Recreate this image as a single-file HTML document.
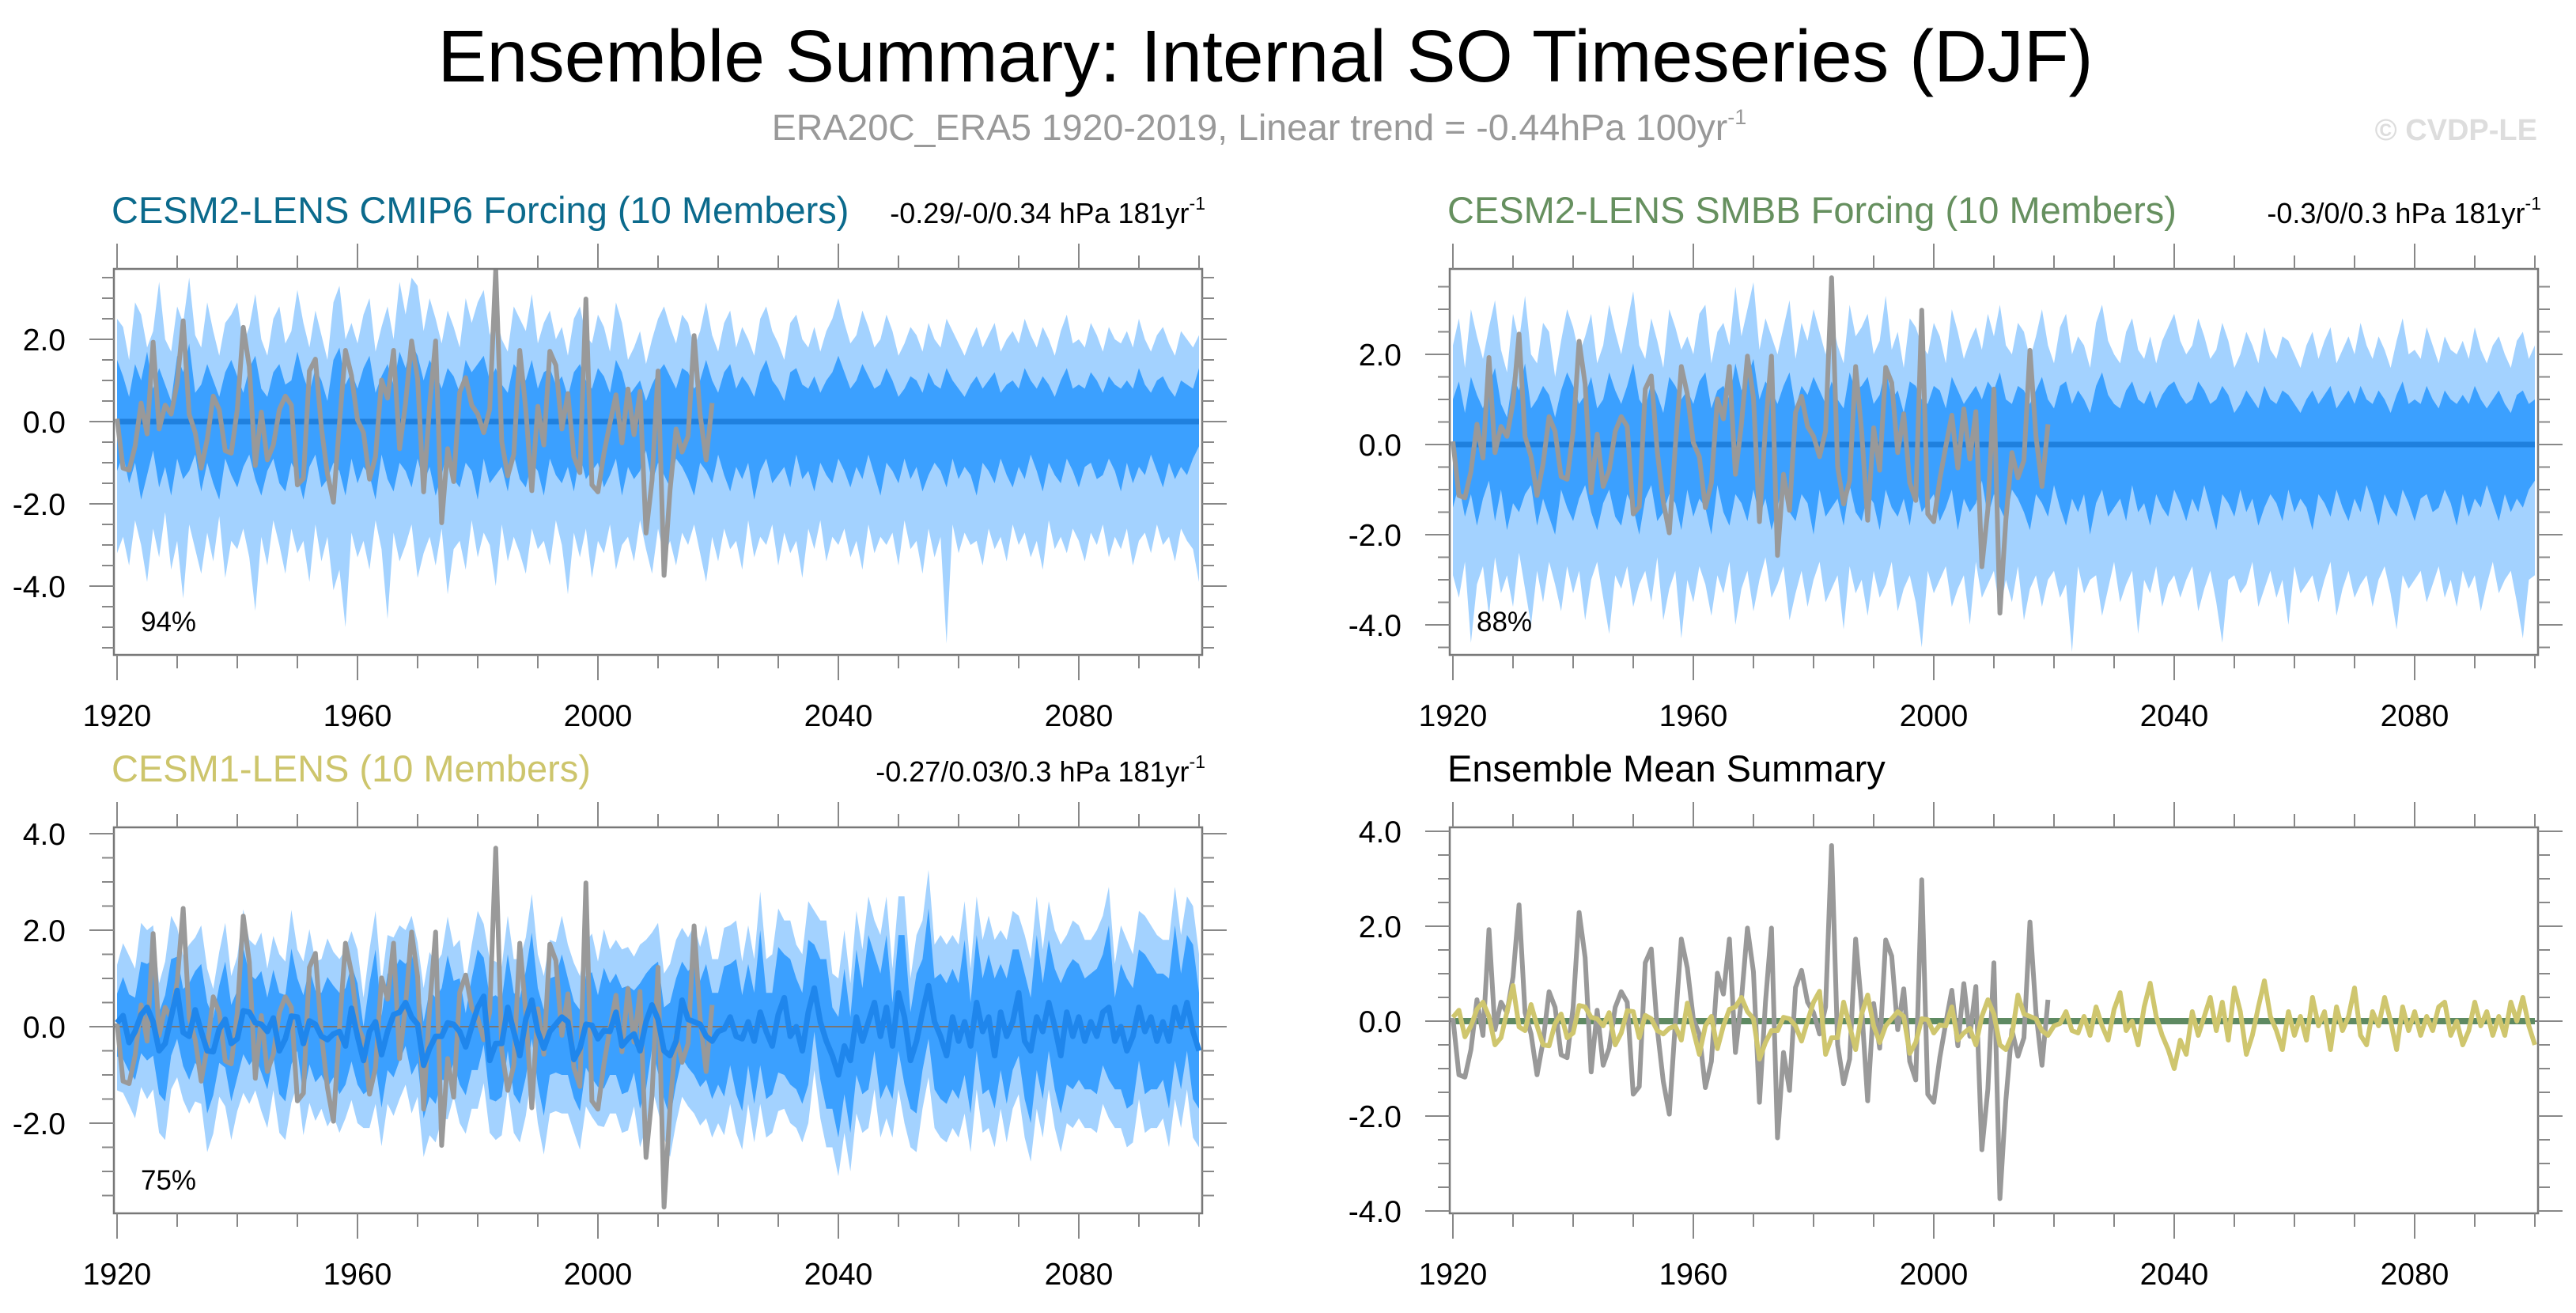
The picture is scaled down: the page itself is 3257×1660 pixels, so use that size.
<!DOCTYPE html>
<html><head><meta charset="utf-8">
<style>
html,body{margin:0;padding:0;background:#fff;}
svg{display:block;}
text{font-family:"Liberation Sans",Arial,sans-serif;}
</style></head>
<body>
<svg id="chart" xmlns="http://www.w3.org/2000/svg" width="3257" height="1660" viewBox="0 0 3257 1660">
<rect x="0" y="0" width="3257" height="1660" fill="#fff"/>
<text x="1600" y="103" font-size="93" text-anchor="middle" fill="#000">Ensemble Summary: Internal SO Timeseries (DJF)</text>
<text x="1592" y="177" font-size="46.5" text-anchor="middle" fill="#999">ERA20C_ERA5 1920-2019, Linear trend = -0.44hPa 100yr<tspan font-size="27" dy="-20">-1</tspan></text>
<text x="3208" y="177" font-size="38" font-weight="bold" text-anchor="end" fill="#ddd">© CVDP-LE</text>
<g id="plots"></g>
</svg>
<script>
const firstYear = 1920;
const nYears = 181;
const xTickLabels = ['1920','1960','2000','2040','2080'];
const xTickYears = [1920,1960,2000,2040,2080];

// Observations ERA20C_ERA5 1920-2019
const obs = [0.07,-1.13,-1.18,-0.6,0.45,-0.3,1.93,-0.18,0.4,0.18,
0.93,2.45,0.18,-0.27,-1.13,-0.43,0.62,0.29,-0.71,-0.77,
0.29,2.29,1.34,-1.07,0.23,-0.93,-0.57,0.29,0.62,0.4,
-1.54,-1.38,1.23,1.52,-0.16,-1.27,-1.96,-0.04,1.73,1.12,
0.04,-0.27,-1.4,-0.85,1.01,0.57,1.73,-0.66,0.45,1.96,
1.04,-1.71,0.4,1.96,-2.46,-0.66,-1.46,0.71,1.07,0.4,
0.18,-0.27,0.3,3.7,-0.49,-1.32,-0.8,1.73,0.29,-1.68,
0.37,-0.57,1.71,1.37,-0.18,0.68,-0.85,-1.24,2.98,-1.54,
-1.71,-0.77,-0.04,0.65,-0.52,0.79,-0.32,0.73,-2.71,-1.43,
1.23,-3.74,-1.66,-0.18,-0.74,-0.35,2.09,0.18,-0.93,0.45];

// CESM1-LENS ensemble mean 1920-2100
const cesm1Mean = [0.08,0.23,-0.33,-0.1,0.25,0.4,0.1,-0.5,-0.35,0.2,
0.75,-0.12,-0.2,0.35,-0.1,-0.5,-0.52,-0.05,0.15,-0.35,
-0.25,0.33,0.3,0.08,0.05,-0.1,0.18,-0.5,-0.25,0.22,
0.2,-0.35,0.12,0.05,-0.2,-0.27,-0.15,-0.1,-0.4,0.38,
-0.2,-0.7,-0.1,0.1,-0.58,-0.1,0.25,0.3,0.5,0.2,
0.05,-0.8,-0.45,-0.2,-0.2,0.08,0.05,-0.1,-0.42,0.0,
0.4,0.63,-0.7,-0.35,-0.35,0.4,-0.1,-0.6,0.15,0.55,
-0.1,-0.45,-0.1,0.05,0.2,0.1,-0.68,-0.45,0.05,0.03,
-0.25,-0.08,-0.1,0.3,-0.4,-0.25,-0.15,-0.5,0.1,0.45,
0.15,-0.5,-0.6,-0.3,0.55,0.15,0.1,0.05,-0.2,-0.3,
-0.1,-0.05,0.2,-0.2,-0.25,
0.1,-0.3,0.3,-0.1,-0.4,0.25,0.6,-0.2,0.0,-0.5,0.3,0.8,0.1,-0.3,-0.6,-1.0,-0.4,-0.7,0.2,-0.3,
0.1,0.5,-0.2,0.4,-0.4,0.7,0.2,-0.7,-0.3,0.3,0.85,0.1,-0.2,-0.6,0.2,-0.3,0.1,-0.4,0.5,-0.1,
0.2,-0.6,0.3,-0.2,0.1,0.7,-0.3,-0.5,0.2,-0.1,0.5,0.0,-0.6,0.3,-0.2,0.2,-0.3,0.1,-0.2,0.3,
0.4,-0.3,0.0,-0.5,-0.2,0.4,-0.1,0.2,-0.3,0.1,-0.3,0.4,0.0,0.5,-0.1,-0.5];

const cmip6Mean = Array(nYears).fill(0.0);
const smbbMean = Array(nYears).fill(0.0);

// CESM2 CMIP6 bands
const p1OuterHi = [2.5,2.3,1.5,2.9,2.6,1.8,2.2,3.4,2.0,1.7,2.8,2.4,3.5,2.1,1.8,2.9,2.2,1.6,2.4,2.6,
2.9,1.9,2.3,3.1,2.0,1.6,2.5,2.8,1.9,2.2,3.2,2.4,1.8,2.7,2.1,1.5,2.9,3.3,2.0,2.4,
1.9,2.6,3.0,1.7,2.3,2.8,2.0,3.4,2.6,3.5,3.3,2.2,3.0,2.5,1.9,2.7,2.3,1.8,3.0,2.4,
2.9,3.2,2.1,2.6,2.0,1.7,2.8,2.5,2.2,3.1,1.9,2.4,2.7,2.0,2.3,1.6,2.5,2.8,2.1,1.9,
2.6,2.3,1.7,2.9,2.4,1.5,1.8,2.2,1.4,2.0,2.5,2.8,2.3,1.9,2.6,2.4,1.8,2.2,2.9,2.1,
1.7,2.4,2.7,1.8,2.3,2.0,1.6,2.5,2.8,2.2,1.9,1.5,2.4,2.6,2.0,1.8,2.3,1.7,2.2,2.5,
3.0,2.4,1.9,2.1,2.7,2.3,1.8,2.0,2.6,2.2,1.6,1.9,2.3,2.1,1.7,2.4,2.0,1.8,2.5,2.2,
1.9,1.6,2.0,2.3,1.8,2.1,2.4,1.7,2.0,2.2,1.9,2.5,2.1,1.8,2.3,2.0,1.6,2.2,2.6,1.9,
2.0,1.8,2.4,2.1,1.7,2.3,2.0,1.9,2.2,1.8,2.5,2.0,1.7,2.1,2.3,1.9,1.6,2.2,2.0,1.8,2.1];
const p1InnerHi = [1.5,1.1,0.6,1.4,1.0,1.7,0.8,1.3,0.9,0.5,1.6,1.2,1.9,0.7,0.9,1.4,1.0,0.6,1.2,1.5,
1.1,0.7,1.3,1.6,0.8,0.6,1.2,1.4,0.9,1.0,1.7,1.1,0.7,1.3,1.0,0.5,1.5,1.8,0.9,1.2,
0.8,1.3,1.6,0.7,1.1,1.4,0.9,1.7,1.3,1.9,1.6,1.0,1.5,1.2,0.8,1.3,1.1,0.7,1.5,1.2,
1.4,1.6,1.0,1.3,0.9,0.7,1.4,1.2,1.0,1.5,0.8,1.2,1.3,0.9,1.1,0.6,1.2,1.4,1.0,0.8,
1.3,1.1,0.7,1.5,1.2,0.6,0.8,1.0,0.5,0.9,1.2,1.4,1.1,0.8,1.3,1.2,0.8,1.0,1.5,1.0,
0.7,1.2,1.4,0.8,1.1,0.9,0.6,1.2,1.5,1.0,0.8,0.5,1.2,1.3,0.9,0.8,1.1,0.7,1.0,1.2,
1.6,1.2,0.8,1.0,1.4,1.1,0.8,0.9,1.3,1.0,0.6,0.8,1.1,1.0,0.7,1.2,0.9,0.8,1.3,1.0,
0.8,0.6,0.9,1.1,0.8,1.0,1.2,0.7,0.9,1.0,0.8,1.3,1.0,0.8,1.1,0.9,0.6,1.0,1.3,0.8,
0.9,0.8,1.2,1.0,0.7,1.1,0.9,0.8,1.0,0.8,1.3,0.9,0.7,1.0,1.1,0.8,0.6,1.0,0.9,0.8,1.3];
const p1InnerLo = [-1.2,-0.8,-1.5,-1.0,-1.9,-1.3,-0.7,-1.6,-1.1,-1.8,-0.9,-1.4,-1.2,-0.8,-1.7,-1.0,-1.5,-1.9,-0.9,-1.3,
-1.6,-1.1,-0.8,-1.4,-1.8,-1.2,-0.9,-1.5,-1.7,-1.0,-1.3,-1.9,-1.1,-0.8,-1.6,-1.4,-1.0,-1.2,-1.8,-0.9,
-1.5,-1.1,-1.3,-1.9,-0.8,-1.4,-1.7,-1.0,-1.2,-1.6,-0.9,-1.5,-1.1,-1.8,-1.3,-0.7,-1.4,-1.6,-1.0,-1.2,
-1.9,-0.9,-1.5,-1.3,-1.1,-1.7,-0.8,-1.4,-1.6,-1.0,-1.2,-1.8,-0.9,-1.3,-1.5,-1.1,-1.7,-0.8,-1.4,-1.2,
-1.0,-1.6,-1.3,-0.9,-1.8,-1.1,-1.4,-1.2,-0.7,-1.5,-1.0,-1.3,-1.6,-0.9,-1.1,-1.4,-1.8,-1.0,-1.2,-1.5,
-0.8,-1.3,-1.7,-1.1,-1.4,-1.0,-1.9,-1.2,-0.9,-1.5,-1.3,-1.1,-1.6,-0.8,-1.4,-1.2,-1.7,-1.0,-1.3,-1.5,
-0.9,-1.2,-1.6,-1.1,-1.4,-0.8,-1.3,-1.8,-1.0,-1.2,-1.5,-0.9,-1.4,-1.1,-1.7,-1.3,-1.0,-1.2,-1.6,-0.9,
-1.4,-1.1,-1.3,-1.8,-1.0,-1.2,-1.5,-0.9,-1.3,-1.6,-1.1,-1.4,-0.8,-1.2,-1.7,-1.0,-1.3,-1.5,-0.9,-1.2,
-1.6,-1.1,-1.0,-1.4,-1.3,-0.9,-1.2,-1.7,-1.0,-1.5,-1.1,-1.3,-0.8,-1.2,-1.6,-1.0,-1.4,-1.1,-1.3,-0.9,-0.6];
const p1OuterLo = [-3.2,-2.8,-3.5,-2.4,-3.0,-3.9,-2.6,-3.3,-2.2,-3.6,-2.9,-4.3,-2.5,-3.1,-3.7,-2.7,-3.4,-2.3,-3.8,-2.9,
-3.1,-2.6,-3.3,-4.6,-2.8,-3.5,-2.4,-3.0,-3.7,-2.6,-3.2,-2.9,-3.9,-2.5,-3.4,-2.8,-4.1,-3.6,-5.0,-2.7,
-3.3,-2.9,-3.6,-2.4,-3.1,-4.8,-2.7,-3.4,-3.0,-2.5,-3.8,-3.2,-2.8,-3.5,-2.6,-4.2,-3.1,-2.9,-3.6,-2.4,
-3.3,-2.7,-3.0,-4.0,-2.5,-3.4,-2.8,-3.2,-3.7,-2.6,-3.1,-2.9,-3.5,-2.4,-3.0,-4.2,-2.7,-3.3,-2.6,-3.8,
-2.9,-3.2,-2.5,-3.6,-3.0,-2.8,-3.4,-2.4,-3.1,-3.7,-2.6,-3.3,-2.9,-3.5,-2.7,-3.0,-2.5,-3.2,-3.9,-2.8,
-3.4,-2.6,-3.1,-2.9,-3.6,-2.4,-3.3,-2.8,-3.0,-2.5,-3.5,-2.7,-3.2,-2.9,-3.8,-2.6,-3.1,-2.4,-3.4,-2.8,
-3.0,-2.6,-3.3,-2.9,-3.6,-2.5,-3.2,-2.8,-3.0,-2.7,-3.5,-2.4,-3.1,-2.9,-3.7,-2.6,-3.3,-2.8,-5.4,-2.5,
-3.2,-2.7,-3.0,-2.9,-3.5,-2.6,-3.1,-2.8,-3.4,-2.5,-3.0,-2.7,-3.3,-2.9,-3.6,-2.4,-3.1,-2.8,-3.2,-2.6,
-2.9,-3.4,-2.7,-3.0,-2.5,-3.3,-2.8,-3.1,-2.6,-3.5,-2.9,-2.7,-3.2,-2.5,-3.0,-2.8,-3.4,-2.6,-2.9,-3.1,-3.9];

// CESM2 SMBB bands
const p2OuterHi = [2.2,2.8,1.7,3.0,2.4,1.9,2.6,3.2,2.1,1.6,2.9,2.3,3.3,2.0,1.8,2.7,2.5,1.5,2.3,3.0,
2.6,2.0,2.4,2.9,1.8,2.2,3.1,2.5,2.0,2.7,3.4,2.2,1.9,2.8,2.3,1.7,3.0,2.6,2.1,2.4,
2.0,2.9,3.1,1.8,2.5,2.7,2.2,3.5,2.4,3.0,3.6,2.1,2.8,2.4,2.0,2.6,3.2,1.9,2.7,2.3,
3.0,2.5,2.0,2.8,2.2,1.8,3.1,2.4,2.6,2.9,2.0,2.3,3.3,2.1,2.5,1.7,2.8,2.6,2.2,2.0,
2.7,2.4,1.8,3.0,2.5,1.9,2.3,2.6,2.1,2.9,2.4,3.1,2.2,2.0,2.7,2.5,1.9,2.4,3.0,2.2,
1.8,2.6,2.9,2.0,2.4,2.2,1.7,2.7,3.1,2.3,2.0,1.8,2.5,2.8,2.1,1.9,2.4,1.8,2.3,2.6,
2.9,2.3,2.0,2.2,2.8,2.4,1.9,2.1,2.7,2.3,1.7,2.0,2.5,2.2,1.8,2.6,2.1,1.9,2.4,2.3,
2.0,1.7,2.2,2.5,1.9,2.3,2.6,1.8,2.1,2.4,2.0,2.7,2.2,1.9,2.4,2.1,1.7,2.3,2.8,2.0,
2.1,1.9,2.6,2.2,1.8,2.4,2.1,2.0,2.3,1.9,2.6,2.1,1.8,2.2,2.4,2.0,1.7,2.3,2.5,1.9,2.2];
const p2InnerHi = [1.0,1.4,0.7,1.5,1.1,0.8,1.3,1.7,0.9,0.6,1.5,1.2,1.8,0.8,1.0,1.3,1.1,0.6,1.2,1.6,
1.3,0.9,1.1,1.5,0.8,1.0,1.6,1.2,0.9,1.3,1.8,1.0,0.8,1.4,1.1,0.7,1.5,1.3,1.0,1.2,
0.9,1.4,1.6,0.8,1.2,1.3,1.0,1.8,1.2,1.5,1.9,1.0,1.4,1.2,0.9,1.3,1.6,0.8,1.3,1.1,
1.5,1.2,0.9,1.4,1.0,0.8,1.6,1.2,1.3,1.5,0.9,1.1,1.7,1.0,1.2,0.7,1.4,1.3,1.0,0.9,
1.3,1.2,0.8,1.5,1.2,0.9,1.1,1.3,1.0,1.4,1.2,1.6,1.0,0.9,1.3,1.2,0.9,1.2,1.5,1.0,
0.8,1.3,1.4,0.9,1.2,1.0,0.7,1.3,1.6,1.1,0.9,0.8,1.2,1.4,1.0,0.9,1.2,0.8,1.1,1.3,
1.4,1.1,0.9,1.0,1.4,1.2,0.9,1.0,1.3,1.1,0.7,0.9,1.2,1.0,0.8,1.3,1.0,0.9,1.2,1.1,
0.9,0.7,1.0,1.2,0.9,1.1,1.3,0.8,1.0,1.2,0.9,1.3,1.0,0.9,1.2,1.0,0.7,1.1,1.4,0.9,
1.0,0.9,1.3,1.0,0.8,1.2,1.0,0.9,1.1,0.9,1.3,1.0,0.8,1.0,1.2,0.9,0.7,1.1,1.2,0.9,1.0];
const p2InnerLo = [-1.4,-0.9,-1.6,-1.1,-1.8,-1.2,-0.8,-1.7,-1.0,-1.9,-1.3,-1.5,-1.1,-0.9,-1.8,-1.2,-1.6,-2.0,-1.0,-1.4,
-1.7,-1.2,-0.9,-1.5,-1.9,-1.3,-1.0,-1.6,-1.8,-1.1,-1.4,-2.0,-1.2,-0.9,-1.7,-1.5,-1.1,-1.3,-1.9,-1.0,
-1.6,-1.2,-1.4,-2.0,-0.9,-1.5,-1.8,-1.1,-1.3,-1.7,-1.0,-1.6,-1.2,-1.9,-1.4,-0.8,-1.5,-1.7,-1.1,-1.3,
-2.0,-1.0,-1.6,-1.4,-1.2,-1.8,-0.9,-1.5,-1.7,-1.1,-1.3,-1.9,-1.0,-1.4,-1.6,-1.2,-1.8,-0.9,-1.5,-1.3,
-1.1,-1.7,-1.4,-1.0,-1.9,-1.2,-1.5,-1.3,-0.8,-1.6,-1.1,-1.4,-1.7,-1.0,-1.2,-1.5,-1.9,-1.1,-1.3,-1.6,
-0.9,-1.4,-1.8,-1.2,-1.5,-1.1,-2.0,-1.3,-1.0,-1.6,-1.4,-1.2,-1.7,-0.9,-1.5,-1.3,-1.8,-1.1,-1.4,-1.6,
-1.0,-1.3,-1.7,-1.2,-1.5,-0.9,-1.4,-1.9,-1.1,-1.3,-1.6,-1.0,-1.5,-1.2,-1.8,-1.4,-1.1,-1.3,-1.7,-1.0,
-1.5,-1.2,-1.4,-1.9,-1.1,-1.3,-1.6,-1.0,-1.4,-1.7,-1.2,-1.5,-0.9,-1.3,-1.8,-1.1,-1.4,-1.6,-1.0,-1.3,
-1.7,-1.2,-1.1,-1.5,-1.4,-1.0,-1.3,-1.8,-1.1,-1.6,-1.2,-1.4,-0.9,-1.3,-1.7,-1.1,-1.5,-1.2,-1.4,-1.0,-0.8];
const p2OuterLo = [-2.9,-3.4,-2.6,-4.4,-3.1,-2.7,-3.8,-2.5,-3.3,-2.9,-3.6,-2.4,-3.2,-4.0,-2.8,-3.5,-2.6,-3.1,-3.7,-2.7,
-3.3,-2.8,-3.9,-3.0,-2.6,-3.4,-4.2,-2.9,-3.2,-2.7,-3.6,-3.1,-2.8,-3.5,-2.5,-3.9,-3.2,-2.8,-4.3,-3.0,
-3.5,-2.7,-3.1,-3.8,-2.9,-3.3,-2.6,-4.0,-3.2,-2.8,-3.7,-3.0,-2.5,-3.4,-3.1,-2.7,-3.9,-3.3,-2.8,-3.6,
-3.0,-2.6,-3.5,-3.2,-2.9,-4.1,-2.7,-3.3,-3.0,-3.8,-2.8,-3.4,-3.1,-2.6,-3.7,-3.2,-2.9,-3.5,-4.5,-2.8,
-3.3,-3.0,-2.7,-3.6,-3.2,-2.9,-4.0,-2.6,-3.4,-3.1,-2.8,-3.7,-3.0,-3.5,-2.7,-3.9,-3.2,-2.9,-3.6,-3.0,
-2.8,-3.4,-3.1,-4.6,-2.7,-3.3,-3.0,-2.9,-3.8,-3.2,-2.6,-3.5,-3.1,-2.8,-4.2,-3.0,-3.3,-2.7,-3.6,-3.1,
-2.9,-3.4,-3.0,-2.7,-3.7,-3.2,-2.8,-3.5,-4.4,-3.0,-2.9,-3.3,-3.1,-2.6,-3.6,-3.2,-2.8,-3.4,-3.0,-4.0,
-2.7,-3.3,-3.1,-2.9,-3.5,-3.0,-2.6,-3.8,-3.2,-2.8,-3.4,-3.1,-2.9,-3.6,-3.0,-2.7,-3.3,-4.1,-2.9,-3.2,
-3.0,-2.8,-3.5,-3.1,-2.7,-3.4,-3.0,-3.6,-2.8,-3.2,-2.9,-3.7,-3.1,-2.6,-3.3,-3.0,-2.8,-3.5,-4.3,-3.0,-2.9];

// CESM1 band spreads relative to ensemble mean
const p3InUp = [0.6,0.8,1.0,0.7,1.1,0.9,1.3,0.8,1.0,1.2,0.7,0.9,1.1,0.8,1.4,1.0,0.7,0.9,1.2,0.8,
1.0,1.3,0.8,0.9,1.1,0.7,1.0,1.2,0.9,1.4,0.8,1.0,1.1,0.7,0.9,1.3,1.0,0.8,1.2,0.9,
1.1,0.7,1.0,1.5,0.8,1.2,0.9,1.1,0.8,1.3,1.0,0.9,1.2,0.8,1.0,1.4,0.9,1.1,0.7,1.0,
1.2,0.8,1.3,1.0,0.9,1.1,0.8,1.2,1.0,1.4,0.9,0.8,1.1,1.0,1.3,0.9,1.2,0.8,1.0,1.1,
0.9,1.3,1.0,0.8,1.2,1.1,0.9,1.4,1.0,0.8,1.2,0.9,1.1,1.3,0.8,1.0,1.2,0.9,1.5,1.0,
0.8,1.3,1.1,1.6,0.9,1.2,1.0,1.7,0.8,1.1,1.4,0.9,1.6,1.0,1.2,1.5,0.9,1.3,1.7,1.0,
1.2,1.6,0.9,1.4,1.1,1.8,1.0,1.3,1.5,0.9,1.2,1.7,1.0,1.4,1.1,1.6,0.9,1.3,1.5,1.0,
1.2,1.7,0.9,1.4,1.1,1.3,1.6,1.0,1.2,1.5,0.9,1.4,1.1,1.7,1.0,1.3,1.2,1.5,0.9,1.6,
1.1,1.3,1.0,1.4,1.2,1.7,0.9,1.3,1.5,1.0,1.2,1.6,1.1,1.4,1.0,1.3,1.7,1.1,1.4,1.8,1.2];
const p3InDn = [0.7,0.9,0.6,1.0,0.8,1.1,0.7,0.9,1.2,0.8,1.0,0.7,0.9,1.1,0.8,1.3,0.9,0.7,1.0,1.2,
0.8,0.9,1.1,0.7,1.0,1.2,0.8,0.9,1.3,1.0,0.7,1.1,0.9,1.2,0.8,1.0,0.9,1.3,0.8,1.1,
1.0,0.7,1.2,0.9,1.1,0.8,1.3,1.0,0.9,1.2,0.8,1.1,1.0,1.4,0.9,1.2,0.8,1.1,1.0,0.9,
1.3,1.0,0.8,1.2,1.1,0.9,1.3,1.0,1.2,0.8,1.1,1.4,0.9,1.0,1.2,1.1,0.8,1.3,0.9,1.1,
1.0,1.2,0.9,1.3,1.0,1.1,0.8,1.2,1.4,0.9,1.1,1.0,1.3,0.9,1.2,1.0,1.1,1.3,0.9,1.2,
1.1,1.4,1.0,1.2,1.5,0.9,1.3,1.1,1.4,1.0,1.2,1.6,1.0,1.3,1.1,1.5,0.9,1.2,1.4,1.1,
1.3,1.0,1.5,1.2,1.1,1.4,1.0,1.3,1.6,1.1,1.2,1.4,1.0,1.5,1.2,1.1,1.4,1.3,1.0,1.5,
1.2,1.1,1.4,1.0,1.3,1.5,1.1,1.2,1.4,1.0,1.3,1.2,1.5,1.1,1.4,1.0,1.3,1.2,1.5,1.1,
1.3,1.0,1.4,1.2,1.1,1.5,1.0,1.3,1.2,1.4,1.1,1.3,1.5,1.0,1.2,1.4,1.1,1.3,1.0,1.4,1.2];
const p3OutUp = [1.2,1.5,1.8,1.3,1.9,1.6,2.0,1.4,1.7,2.1,1.3,1.6,1.9,1.5,2.2,1.7,1.3,1.6,2.0,1.4,
1.7,2.1,1.5,1.6,1.9,1.3,1.7,2.0,1.6,2.2,1.4,1.7,1.9,1.3,1.6,2.1,1.7,1.5,2.0,1.6,
1.8,1.3,1.7,2.3,1.5,2.0,1.6,1.8,1.5,2.1,1.7,1.6,2.0,1.5,1.7,2.2,1.6,1.9,1.3,1.7,
2.0,1.5,2.1,1.7,1.6,1.9,1.5,2.0,1.7,2.2,1.6,1.5,1.9,1.7,2.1,1.6,2.0,1.5,1.7,1.9,
1.6,2.1,1.7,1.5,2.0,1.9,1.6,2.2,1.7,1.5,2.0,1.6,1.9,2.1,1.5,1.7,2.0,1.6,2.3,1.7,
1.5,2.1,1.9,2.4,1.6,2.0,1.7,2.5,1.5,1.9,2.2,1.6,2.4,1.7,2.0,2.3,1.6,2.1,2.5,1.7,
2.0,2.4,1.6,2.2,1.9,2.6,1.7,2.1,2.3,1.6,2.0,2.5,1.7,2.2,1.9,2.4,1.6,2.1,2.3,1.7,
2.0,2.5,1.6,2.2,1.9,2.1,2.4,1.7,2.0,2.3,1.6,2.2,1.9,2.5,1.7,2.1,2.0,2.3,1.6,2.4,
1.9,2.1,1.7,2.2,2.0,2.5,1.6,2.1,2.3,1.7,2.0,2.4,1.9,2.2,1.7,2.1,2.5,1.9,2.2,2.6,2.0];
const p3OutDn = [1.4,1.6,1.3,1.8,1.5,1.9,1.4,1.7,2.0,1.5,1.8,1.4,1.6,1.9,1.5,2.1,1.7,1.4,1.8,2.0,
1.5,1.7,1.9,1.4,1.8,2.0,1.5,1.7,2.1,1.8,1.4,1.9,1.7,2.0,1.5,1.8,1.7,2.1,1.5,1.9,
1.8,1.4,2.0,1.7,1.9,1.5,2.1,1.8,1.7,2.0,1.5,1.9,1.8,2.2,1.7,2.0,1.5,1.9,1.8,1.7,
2.1,1.8,1.5,2.0,1.9,1.7,2.1,1.8,2.0,1.5,1.9,2.2,1.7,1.8,2.0,1.9,1.5,2.1,1.7,1.9,
1.8,2.0,1.7,2.1,1.8,1.9,1.5,2.0,2.2,1.7,1.9,1.8,2.1,1.7,2.0,1.8,1.9,2.1,1.7,2.0,
1.9,2.2,1.8,2.0,2.3,1.7,2.1,1.9,2.2,1.8,2.0,2.3,1.8,2.1,1.9,2.3,1.7,2.0,2.2,1.9,
2.1,1.8,2.3,2.0,1.9,2.2,1.8,2.1,2.3,1.9,2.0,2.2,1.8,2.3,2.0,1.9,2.2,2.1,1.8,2.3,
2.0,1.9,2.2,1.8,2.1,2.3,1.9,2.0,2.2,1.8,2.1,2.0,2.3,1.9,2.2,1.8,2.1,2.0,2.3,1.9,
2.1,1.8,2.2,2.0,1.9,2.3,1.8,2.1,2.0,2.2,1.9,2.1,2.3,1.8,2.0,2.2,1.9,2.1,1.8,2.2,2.0];

const p1YTicks = [2.0,0.0,-2.0,-4.0];
const p1YLabels = ['2.0','0.0','-2.0','-4.0'];
const p3YTicks = [4.0,2.0,0.0,-2.0];
const p3YLabels = ['4.0','2.0','0.0','-2.0'];
const p4YTicks = [4.0,2.0,0.0,-2.0,-4.0];
const p4YLabels = ['4.0','2.0','0.0','-2.0','-4.0'];

const NS = 'http://www.w3.org/2000/svg';
const root = document.getElementById('plots');
function mk(tag, attrs, parent){
  const e = document.createElementNS(NS, tag);
  for (const k in attrs) e.setAttribute(k, attrs[k]);
  (parent||root).appendChild(e);
  return e;
}

function panel(cfg){
  const g = mk('g', {});
  
  
  const L = cfg.left, R = cfg.left + 1376, T = cfg.top, B = cfg.top + 488;
  const x0 = L + 4, pxYr = 7.6;
  const xs = i => x0 + i * pxYr;
  const ys = v => cfg.zero - v * cfg.unit;
  const clipId = 'clip-' + cfg.name;
  const cp = mk('clipPath', {id: clipId}, g);
  mk('rect', {x: L, y: T, width: R - L, height: B - T}, cp);
  const plot = mk('g', {'clip-path': 'url(#' + clipId + ')'}, g);

  function band(hi, lo, color, nm){
    let d = '';
    for (let i = 0; i < hi.length; i++) d += (i ? 'L' : 'M') + xs(i).toFixed(1) + ',' + ys(hi[i]).toFixed(1);
    for (let i = lo.length - 1; i >= 0; i--) d += 'L' + xs(i).toFixed(1) + ',' + ys(lo[i]).toFixed(1);
    const p = mk('path', {d: d + 'Z', fill: color, stroke: 'none'}, plot);
    
    
  }
  function line(vals, color, w, nm){
    let d = '';
    for (let i = 0; i < vals.length; i++) d += (i ? 'L' : 'M') + xs(i).toFixed(1) + ',' + ys(vals[i]).toFixed(1);
    const p = mk('path', {d: d, fill: 'none', stroke: color, 'stroke-width': w, 'stroke-linejoin': 'round'}, plot);
    
    
  }
  if (cfg.bands){
    band(cfg.bands.oh, cfg.bands.ol, '#a3d2ff', 'outer-spread-band');
    band(cfg.bands.ih, cfg.bands.il, '#3ba0ff', 'inner-spread-band');
  }
  if (cfg.zeroLine){
    const zl = mk('line', {x1: L, x2: R, y1: ys(0), y2: ys(0), stroke: '#777', 'stroke-width': 2}, plot);
    
    
  }
  (cfg.lines || []).forEach(l => line(l.v, l.c, l.w, l.n));

  const fr = mk('rect', {x: L, y: T, width: R - L, height: B - T, fill: 'none', stroke: '#777', 'stroke-width': 2.5}, g);
  
  
  for (let yr = 1920; yr <= 2100; yr += 10){
    const x = xs(yr - firstYear);
    const major = (yr - 1920) % 40 === 0;
    const len = major ? 32 : 17;
    mk('line', {x1: x, x2: x, y1: B, y2: B + len, stroke: '#888', 'stroke-width': 2}, g);
    mk('line', {x1: x, x2: x, y1: T, y2: T - len, stroke: '#888', 'stroke-width': 2}, g);
  }
  xTickLabels.forEach((lab, k) => {
    const t = mk('text', {x: xs(xTickYears[k] - firstYear), y: B + 90, 'font-size': 39, 'text-anchor': 'middle', fill: '#000'}, g);
    t.textContent = lab;
    
    
  });
  const vmax = (cfg.zero - T) / cfg.unit, vmin = (cfg.zero - B) / cfg.unit;
  for (let v = Math.ceil(vmin * 2) / 2; v <= vmax + 1e-6; v += 0.5){
    const y = ys(v);
    const major = Math.abs(v % 2) < 1e-6;
    const len = major ? 31 : 15;
    mk('line', {x1: L, x2: L - len, y1: y, y2: y, stroke: '#888', 'stroke-width': 2}, g);
    mk('line', {x1: R, x2: R + len, y1: y, y2: y, stroke: '#888', 'stroke-width': 2}, g);
  }
  cfg.yTicks.forEach((v, k) => {
    const t = mk('text', {x: L - 61, y: ys(v) + 14, 'font-size': 39, 'text-anchor': 'end', fill: '#000'}, g);
    t.textContent = cfg.yLabels[k];
    
    
  });
  const tt = mk('text', {x: L - 3, y: T - 58, 'font-size': 47, fill: cfg.titleColor}, g);
  tt.textContent = cfg.title;
  
  
  if (cfg.trend){
    const tr = mk('text', {x: R + 4, y: T - 58, 'font-size': 36, 'text-anchor': 'end', fill: '#000'}, g);
    
    
    tr.appendChild(document.createTextNode(cfg.trend));
    const sp = document.createElementNS(NS, 'tspan');
    sp.setAttribute('font-size', '23');
    sp.setAttribute('dy', '-17');
    sp.textContent = '-1';
    tr.appendChild(sp);
  }
  if (cfg.pct){
    const pt = mk('text', {x: L + 34, y: B - 30, 'font-size': 35, fill: '#000'}, g);
    pt.textContent = cfg.pct;
    
    
  }
}

const p3InnerHi = cesm1Mean.map((m, i) => m + p3InUp[i]);
const p3InnerLo = cesm1Mean.map((m, i) => m - p3InDn[i]);
const p3OuterHi = cesm1Mean.map((m, i) => m + p3OutUp[i]);
const p3OuterLo = cesm1Mean.map((m, i) => m - p3OutDn[i]);

panel({name: 'panel-cesm2-cmip6', left: 144, top: 340, zero: 533, unit: 52,
  bands: {oh: p1OuterHi, ol: p1OuterLo, ih: p1InnerHi, il: p1InnerLo},
  lines: [{v: cmip6Mean, c: '#1f80de', w: 7, n: 'ensemble-mean-line'}, {v: obs, c: '#999', w: 6, n: 'observed-line'}],
  yTicks: p1YTicks, yLabels: p1YLabels, title: 'CESM2-LENS CMIP6 Forcing (10 Members)', titleColor: '#0b6a8c',
  trend: '-0.29/-0/0.34 hPa 181yr', pct: '94%'});
panel({name: 'panel-cesm2-smbb', left: 1833, top: 340, zero: 562, unit: 57,
  bands: {oh: p2OuterHi, ol: p2OuterLo, ih: p2InnerHi, il: p2InnerLo},
  lines: [{v: smbbMean, c: '#1f80de', w: 7, n: 'ensemble-mean-line'}, {v: obs, c: '#999', w: 6, n: 'observed-line'}],
  yTicks: p1YTicks, yLabels: p1YLabels, title: 'CESM2-LENS SMBB Forcing (10 Members)', titleColor: '#66905f',
  trend: '-0.3/0/0.3 hPa 181yr', pct: '88%'});
panel({name: 'panel-cesm1', left: 144, top: 1046, zero: 1298, unit: 61,
  bands: {oh: p3OuterHi, ol: p3OuterLo, ih: p3InnerHi, il: p3InnerLo}, zeroLine: true,
  lines: [{v: obs, c: '#999', w: 6, n: 'observed-line'}, {v: cesm1Mean, c: '#1f86ec', w: 7, n: 'ensemble-mean-line'}],
  yTicks: p3YTicks, yLabels: p3YLabels, title: 'CESM1-LENS (10 Members)', titleColor: '#cdc56c',
  trend: '-0.27/0.03/0.3 hPa 181yr', pct: '75%'});
panel({name: 'panel-ensemble-mean-summary', left: 1833, top: 1046, zero: 1291, unit: 60, zeroLine: true,
  lines: [{v: cmip6Mean, c: '#0b6a8c', w: 8, n: 'cmip6-mean-line'}, {v: smbbMean, c: '#5e8a62', w: 8, n: 'smbb-mean-line'},
          {v: obs, c: '#999', w: 6, n: 'observed-line'}, {v: cesm1Mean, c: '#cfc66e', w: 6, n: 'cesm1-mean-line'}],
  yTicks: p4YTicks, yLabels: p4YLabels, title: 'Ensemble Mean Summary', titleColor: '#000'});
</script>
</body></html>
